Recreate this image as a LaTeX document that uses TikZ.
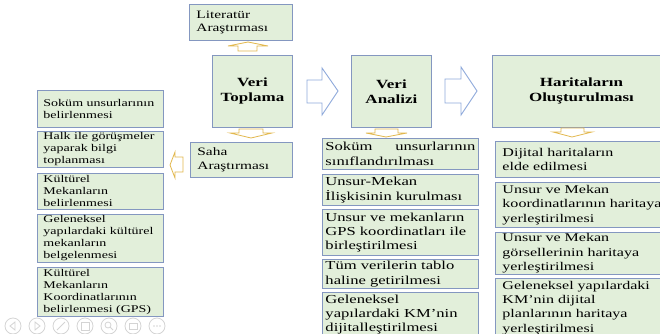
\documentclass[tikz,border=0pt]{standalone}
\usepackage{fontspec}
\setmainfont{Liberation Serif}[FakeStretch=1.36]
\definecolor{bfill}{HTML}{E2EFDA}
\definecolor{bborder}{HTML}{8497C0}
\definecolor{gold}{HTML}{E2B84E}
\definecolor{barrow}{HTML}{8EA9DB}
\definecolor{icon}{HTML}{D4D4D4}
\tikzset{
  box/.style={draw=bborder, fill=bfill, line width=0.9pt, anchor=north west, inner ysep=0pt, align=left},
  lbox/.style={box, minimum width=126pt, text width=114pt, inner xsep=6pt, font=\fontsize{10.3}{12}\selectfont},
  mbox/.style={box, minimum width=156pt, text width=150pt, inner xsep=3pt, font=\fontsize{12.2}{14.3}\selectfont},
  rbox/.style={box, minimum width=179pt, text width=165pt, inner xsep=7pt, font=\fontsize{11.8}{14.3}\selectfont},
  hbox/.style={box, align=center, font=\fontsize{12.5}{15}\selectfont\bfseries, minimum height=72pt},
  sbox/.style={box, minimum width=103pt, text width=89pt, inner xsep=7pt, font=\fontsize{11.3}{13.5}\selectfont},
  garrow/.style={draw=gold, fill=white, line width=0.8pt, line join=miter},
  barr/.style={draw=barrow, fill=white, line width=0.9pt, line join=miter},
  ico/.style={draw=icon, line width=0.8pt}
}
\begin{document}
\begin{tikzpicture}[x=1pt,y=-1pt]
\useasboundingbox (0,0) rectangle (660,334);
% top row
\node[sbox, minimum height=36pt] (lit) at (189,4) {Literatür\\Araştırması};
\node[hbox, minimum width=80pt, text width=76pt, inner xsep=2pt] (vt) at (212,55) {Veri\\Toplama};
\node[sbox, minimum height=35pt, minimum width=102pt, text width=88pt] (saha) at (190,142) {Saha\\Araştırması};
\node[hbox, minimum width=80pt, text width=76pt, inner xsep=2pt] (va) at (351,55) {Veri\\Analizi};
\node[hbox, minimum width=178pt, text width=168pt, inner xsep=5pt] (ho) at (492,55) {Haritaların\\Oluşturulması};
% left column
\node[lbox, minimum height=37pt] (l1) at (37,90) {Soküm unsurlarının\\belirlenmesi};
\node[lbox, minimum height=36pt] (l2) at (37,131) {Halk ile görüşmeler\\yaparak bilgi\\toplanması};
\node[lbox, minimum height=36pt] (l3) at (37,173) {Kültürel\\Mekanların\\belirlenmesi};
\node[lbox, minimum height=48pt] (l4) at (37,214) {Geleneksel\\yapılardaki kültürel\\mekanların\\belgelenmesi};
\node[lbox, minimum height=49pt] (l5) at (37,267) {Kültürel\\Mekanların\\Koordinatlarının\\belirlenmesi (GPS)};
% middle column
\node[mbox, minimum height=31pt] (m1) at (322,138) {Soküm\hfill unsurlarının\\sınıflandırılması};
\node[mbox, minimum height=31pt] (m2) at (322,174) {Unsur-Mekan\\İlişkisinin kurulması};
\node[mbox, minimum height=46pt] (m3) at (322,209) {Unsur ve mekanların\\GPS koordinatları ile\\birleştirilmesi};
\node[mbox, minimum height=29pt] (m4) at (322,259) {Tüm verilerin tablo\\haline getirilmesi};
\node[mbox, minimum height=44pt] (m5) at (322,292) {Geleneksel\\yapılardaki KM’nin\\dijitalleştirilmesi};
% right column
\node[rbox, minimum height=36pt] (r1) at (495,141) {Dijital haritaların\\elde edilmesi};
\node[rbox, minimum height=45pt] (r2) at (495,182) {Unsur ve Mekan\\koordinatlarının haritaya\\yerleştirilmesi};
\node[rbox, minimum height=42pt] (r3) at (495,232) {Unsur ve Mekan\\görsellerinin haritaya\\yerleştirilmesi};
\node[rbox, minimum height=59pt] (r4) at (495,278) {Geleneksel yapılardaki\\KM’nin dijital\\planlarının haritaya\\yerleştirilmesi};
% gold block arrows
\draw[garrow] (238,51) -- (238,46) -- (228,46) -- (248,42) -- (268,46) -- (257,46) -- (257,51) -- cycle;
\draw[garrow] (239,129) -- (263,129) -- (263,133) -- (272,133) -- (251,138) -- (230,133) -- (239,133) -- cycle;
\draw[garrow] (183,157) -- (175,157) -- (175,152) -- (170,165) -- (175,178) -- (175,172) -- (183,172) -- cycle;
\draw[garrow] (375,129) -- (398,129) -- (398,133) -- (407,133) -- (386,137) -- (366,133) -- (375,133) -- cycle;
\draw[garrow] (561,128) -- (584,128) -- (584,132) -- (592,132) -- (572,137) -- (553,132) -- (561,132) -- cycle;
% blue block arrows
\draw[barr] (307,80) -- (322,80) -- (322,68) -- (338,91) -- (322,115) -- (322,103) -- (307,103) -- cycle;
\draw[barr] (445,79) -- (461,79) -- (461,67) -- (477,91) -- (461,115) -- (461,103) -- (445,103) -- cycle;
% presentation toolbar icons
\foreach \cx in {13,37,61,85,109,133,157} \draw[ico] (\cx,326) circle (8);
\draw[ico] (15,322) -- (10,326) -- (15,330) -- cycle;
\draw[ico] (35,322) -- (40,326) -- (35,330) -- cycle;
\draw[ico] (57,330) -- (65,322);
\draw[ico] (81,322) rectangle (89,330);
\draw[ico] (108,325) circle (3) (110,327) -- (113,330);
\draw[ico] (129,323) rectangle (137,329);
\foreach \dx in {-3,0,3} \fill[icon] (157+\dx,326) circle (0.8);
\end{tikzpicture}
\end{document}
